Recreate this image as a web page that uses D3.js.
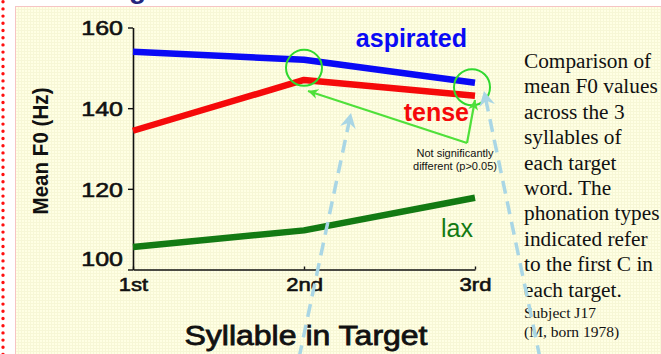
<!DOCTYPE html>
<html>
<head>
<meta charset="utf-8">
<script src="https://cdn.jsdelivr.net/npm/d3@7"></script>
<style>
  body { margin: 0; background: #fff; }
  svg { display: block; font-family: "Liberation Sans", Arial, sans-serif; }
</style>
</head>
<body>
<svg id="chart"></svg>
<script>
// values
const syllables = ["1st", "2nd", "3rd"];
const aspiratedF0 = [154, 152, 146.3];
const tenseF0 = [134.4, 147, 143.1];
const laxF0 = [105.6, 109.7, 117.8];
const seriesNames = ["aspirated", "tense", "lax"];
const yTickValues = [100, 120, 140, 160];
const noteLines = ["Not significantly", "different (p>0.05)"];
const captionLines = [
  "Comparison of", "mean F0 values", "across the 3", "syllables of",
  "each target", "word. The", "phonation types", "indicated refer",
  "to the first C in", "each target."
];
const subjectLines = ["Subject J17", "(M, born 1978)"];

class F0Chart {
  constructor(_config) {
    this.config = {
      parentElement: _config.parentElement,
      containerWidth: 661,
      containerHeight: 354,
      plot: { left: 133, right: 475, top: 27.5, bottom: 269.5 },
      colors: { aspirated: "#0a0af5", tense: "#f50a0a", lax: "#137a13" },
      labelOffsets: {
        aspirated: { dx: -8, dy: -36 },
        tense: { dx: -6, dy: 25 },
        lax: { dx: -2, dy: 39 },
      },
      noteGreen: "#4fe03a",
      arrowBlue: "#a9d6e5",
    };
    this.initVis();
  }

  initVis() {
    let vis = this;
    const p = vis.config.plot;

    vis.svg = d3
      .select(vis.config.parentElement)
      .attr("width", vis.config.containerWidth)
      .attr("height", vis.config.containerHeight);

    const defs = vis.svg.append("defs");
    const pat = defs
      .append("pattern")
      .attr("id", "paper")
      .attr("width", 3)
      .attr("height", 3)
      .attr("patternUnits", "userSpaceOnUse");
    pat.append("rect").attr("width", 3).attr("height", 3).attr("fill", "#ffffe4");
    pat.append("path").attr("d", "M0,0.5H3M0.5,0V3").attr("stroke", "#f7f7d6").attr("stroke-width", 1);

    defs
      .append("marker")
      .attr("id", "greenHead")
      .attr("markerUnits", "userSpaceOnUse")
      .attr("viewBox", "-10 -6 12 12")
      .attr("markerWidth", 12)
      .attr("markerHeight", 12)
      .attr("refX", 0)
      .attr("refY", 0)
      .attr("orient", "auto")
      .append("path")
      .attr("d", "M0,0L-10,-5L-7,0L-10,5Z")
      .attr("fill", vis.config.noteGreen);

    defs
      .append("marker")
      .attr("id", "blueHead")
      .attr("markerUnits", "userSpaceOnUse")
      .attr("viewBox", "-16 -9 18 18")
      .attr("markerWidth", 18)
      .attr("markerHeight", 18)
      .attr("refX", 0)
      .attr("refY", 0)
      .attr("orient", "auto")
      .append("path")
      .attr("d", "M0,0L-15,-8L-10,0L-15,8Z")
      .attr("fill", vis.config.arrowBlue);

    // slide background
    vis.svg
      .append("rect")
      .attr("x", 15.5)
      .attr("y", 6.5)
      .attr("width", 700)
      .attr("height", 400)
      .attr("fill", "url(#paper)")
      .attr("stroke", "#f6c4c4")
      .attr("stroke-width", 1);

    vis.svg
      .append("line")
      .attr("x1", 3)
      .attr("x2", 3)
      .attr("y1", 1.7)
      .attr("y2", 360)
      .attr("stroke", "#ff1010")
      .attr("stroke-width", 3.4)
      .attr("stroke-linecap", "round")
      .attr("stroke-dasharray", "0 7.2");

    // bottom of the slide title, cut off by the crop
    vis.svg
      .append("text")
      .attr("x", 129)
      .attr("y", -2)
      .attr("font-size", 28)
      .attr("font-weight", "bold")
      .attr("fill", "#26267e")
      .text("g");

    vis.xScale = d3.scalePoint().domain(syllables).range([p.left, p.right]);
    vis.yScale = d3.scaleLinear().domain([100, 160]).range([p.bottom, p.top]);

    vis.chart = vis.svg.append("g");
    vis.annot = vis.svg.append("g");
    vis.overlay = vis.svg.append("g");
  }

  updateVis() {
    let vis = this;
    vis.series = seriesNames.map((name, i) => ({
      name,
      values: [aspiratedF0, tenseF0, laxF0][i].map((v, j) => ({ syl: syllables[j], f0: v })),
    }));
    vis.renderVis();
  }

  renderVis() {
    let vis = this;
    const p = vis.config.plot;

    // axes
    const yAxisG = vis.chart
      .append("g")
      .attr("transform", `translate(${p.left},0)`)
      .call(d3.axisLeft(vis.yScale).tickValues(yTickValues).tickSize(5).tickSizeOuter(0).tickPadding(5));
    const xAxisG = vis.chart
      .append("g")
      .attr("transform", `translate(0,${p.bottom})`)
      .call(d3.axisBottom(vis.xScale).tickSize(-3).tickSizeOuter(0));

    [yAxisG, xAxisG].forEach((g) => {
      g.select(".domain").attr("stroke", "#111").attr("stroke-width", 1.6);
      g.selectAll(".tick line").attr("stroke", "#111").attr("stroke-width", 1.4);
      g.selectAll(".tick text")
        .attr("fill", "#111")
        .attr("stroke", "#111")
        .attr("stroke-width", 0.6)
        .attr("font-family", "Liberation Sans, Arial, sans-serif");
    });
    yAxisG.selectAll(".tick text").attr("font-size", 21).attr("dy", (d) => (d === 100 ? "-0.2em" : "0.35em"));
    xAxisG.selectAll(".tick text").attr("font-size", 18.5).attr("y", 21).attr("dy", 0);
    vis.chart.selectAll(".tick text").each(function () {
      const len = this.getComputedTextLength();
      d3.select(this).attr("textLength", len * 1.19).attr("lengthAdjust", "spacingAndGlyphs");
    });

    vis.chart
      .append("text")
      .attr("transform", `translate(48,151) rotate(-90)`)
      .attr("text-anchor", "middle")
      .attr("font-size", 22)
      .attr("font-weight", "bold")
      .attr("fill", "#111")
      .attr("textLength", 127)
      .attr("lengthAdjust", "spacingAndGlyphs")
      .text("Mean F0 (Hz)");

    vis.chart
      .append("text")
      .attr("x", 306)
      .attr("y", 345)
      .attr("text-anchor", "middle")
      .attr("font-size", 27)
      .attr("fill", "#111")
      .attr("stroke", "#111")
      .attr("stroke-width", 0.8)
      .attr("textLength", 243)
      .attr("lengthAdjust", "spacingAndGlyphs")
      .text("Syllable in Target");

    // lines
    const line = d3
      .line()
      .x((d) => vis.xScale(d.syl))
      .y((d) => vis.yScale(d.f0));

    vis.chart
      .selectAll(".series")
      .data(vis.series)
      .join("path")
      .attr("class", "series")
      .attr("fill", "none")
      .attr("stroke", (d) => vis.config.colors[d.name])
      .attr("stroke-width", 6.5)
      .attr("stroke-linejoin", "round")
      .attr("d", (d) => line(d.values));

    vis.chart
      .selectAll(".series-label")
      .data(vis.series)
      .join("text")
      .attr("class", "series-label")
      .attr("text-anchor", "end")
      .attr("x", (d) => vis.xScale(syllables[2]) + vis.config.labelOffsets[d.name].dx)
      .attr("y", (d) => vis.yScale(d.values[2].f0) + vis.config.labelOffsets[d.name].dy)
      .attr("font-size", 25)
      .attr("font-weight", (d) => (d.name === "lax" ? "normal" : "bold"))
      .attr("fill", (d) => vis.config.colors[d.name])
      .text((d) => d.name);

    // "not significantly different" annotation
    const circles = [1, 2].map((i) => ({
      cx: vis.xScale(syllables[i]) - (i === 2 ? 3 : 0),
      cy: vis.yScale((aspiratedF0[i] + tenseF0[i]) / 2) - 2,
    }));
    vis.annot
      .selectAll("circle")
      .data(circles)
      .join("circle")
      .attr("cx", (d) => d.cx)
      .attr("cy", (d) => d.cy)
      .attr("r", 18)
      .attr("fill", "none")
      .attr("stroke", "#2fd82f")
      .attr("stroke-width", 2);

    const vertex = [467, 143];
    const tips = [[308, 91], [475, 100]];
    vis.annot
      .selectAll(".note-arrow")
      .data(tips)
      .join("line")
      .attr("class", "note-arrow")
      .attr("x1", vertex[0])
      .attr("y1", vertex[1])
      .attr("x2", (d) => d[0])
      .attr("y2", (d) => d[1])
      .attr("stroke", vis.config.noteGreen)
      .attr("stroke-width", 2.2)
      .attr("marker-end", "url(#greenHead)");

    vis.annot
      .selectAll(".note-text")
      .data(noteLines)
      .join("text")
      .attr("class", "note-text")
      .attr("x", 455)
      .attr("y", (d, i) => 157 + i * 13)
      .attr("text-anchor", "middle")
      .attr("font-size", 11)
      .attr("fill", "#111")
      .text((d) => d);

    // caption on the right
    vis.annot
      .selectAll(".caption")
      .data(captionLines)
      .join("text")
      .attr("class", "caption")
      .attr("x", 524)
      .attr("y", (d, i) => 68 + i * 25.4)
      .attr("font-family", "Liberation Serif, Times New Roman, serif")
      .attr("font-size", 21.3)
      .attr("fill", "#111")
      .text((d) => d);

    vis.annot
      .selectAll(".subject")
      .data(subjectLines)
      .join("text")
      .attr("class", "subject")
      .attr("x", 524)
      .attr("y", (d, i) => 318 + i * 19)
      .attr("font-family", "Liberation Serif, Times New Roman, serif")
      .attr("font-size", 15.5)
      .attr("fill", "#111")
      .text((d) => d);

    // light blue dashed pointers
    const pointers = [
      [[299, 358], [351, 113]],
      [[540, 358], [484, 91]],
    ];
    vis.overlay
      .selectAll(".pointer")
      .data(pointers)
      .join("line")
      .attr("class", "pointer")
      .attr("x1", (d) => d[0][0])
      .attr("y1", (d) => d[0][1])
      .attr("x2", (d) => d[1][0])
      .attr("y2", (d) => d[1][1])
      .attr("stroke", vis.config.arrowBlue)
      .attr("stroke-width", 3.5)
      .attr("stroke-dasharray", "13 8")
      .attr("marker-end", "url(#blueHead)");
  }
}

const chart = new F0Chart({ parentElement: "#chart" });
chart.updateVis();
</script>
</body>
</html>
